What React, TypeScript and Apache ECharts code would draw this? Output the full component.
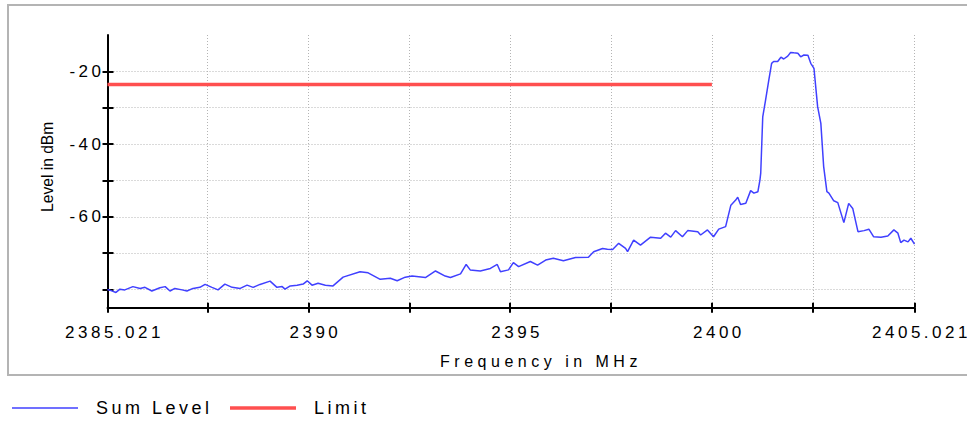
import React, { useEffect, useRef } from 'react';
import * as echarts from 'echarts';

const xMin = 2385.021;
const xMax = 2405.021;
const yMin = -85;
const yMax = -10;
const xTickValues = [2385.021, 2387.5, 2390, 2392.5, 2395, 2397.5, 2400, 2402.5, 2405.021];
const xLabelValues = [2385.021, 2390, 2395, 2400, 2405.021];
const yTickValues = [-80, -70, -60, -50, -40, -30, -20];
const yLabelValues = [-60, -40, -20];

const sumLevelFreq = [
  2385.021, 2385.11, 2385.23, 2385.33, 2385.45, 2385.65, 2385.83, 2385.95, 2386.12, 2386.32,
  2386.45, 2386.57, 2386.69, 2386.87, 2386.99, 2387.14, 2387.31, 2387.44, 2387.61, 2387.76,
  2387.93, 2388.11, 2388.31, 2388.48, 2388.63, 2388.8, 2389.05, 2389.22, 2389.35, 2389.42,
  2389.55, 2389.72, 2389.87, 2389.97, 2390.09, 2390.24, 2390.42, 2390.61, 2390.86, 2391.28,
  2391.48, 2391.78, 2392.03, 2392.2, 2392.4, 2392.57, 2392.9, 2393.15, 2393.39, 2393.52,
  2393.77, 2393.91, 2394.01, 2394.26, 2394.51, 2394.68, 2394.76, 2394.96, 2395.08, 2395.21,
  2395.5, 2395.68, 2395.88, 2396.07, 2396.32, 2396.62, 2396.94, 2397.07, 2397.29, 2397.41,
  2397.54, 2397.69, 2397.86, 2397.91, 2398.06, 2398.23, 2398.48, 2398.73, 2398.85, 2398.98,
  2399.1, 2399.27, 2399.4, 2399.65, 2399.72, 2399.89, 2400.04, 2400.17, 2400.34, 2400.47,
  2400.59, 2400.64, 2400.71, 2400.84, 2400.96, 2401.04, 2401.14, 2401.19, 2401.21, 2401.26,
  2401.33, 2401.41, 2401.48, 2401.53, 2401.63, 2401.71, 2401.78, 2401.88, 2401.95, 2402.03,
  2402.13, 2402.2, 2402.28, 2402.38, 2402.45, 2402.53, 2402.62, 2402.7, 2402.77, 2402.85,
  2402.9, 2403.02, 2403.12, 2403.27, 2403.39, 2403.49, 2403.62, 2403.77, 2403.89, 2404.01,
  2404.19, 2404.36, 2404.51, 2404.61, 2404.68, 2404.76, 2404.86, 2404.93, 2405.021,
];
const sumLevelDbm = [
  -80.0, -80.3, -80.8, -79.9, -80.1, -79.2, -79.7, -79.4, -80.4, -79.5,
  -79.2, -80.4, -79.7, -80.1, -80.4, -79.7, -79.4, -78.6, -79.4, -80.1,
  -78.5, -79.4, -79.7, -78.8, -79.4, -78.6, -77.7, -79.4, -79.2, -79.9,
  -79.0, -78.8, -78.5, -77.6, -78.8, -78.3, -78.8, -79.0, -76.6, -75.1,
  -75.4, -77.2, -76.9, -77.6, -76.6, -76.3, -76.7, -74.9, -76.3, -76.7,
  -75.7, -73.1, -74.6, -74.9, -74.2, -73.1, -75.1, -74.6, -72.6, -73.7,
  -72.3, -73.3, -71.9, -71.4, -72.1, -71.2, -71.1, -69.6, -68.7, -68.9,
  -69.0, -67.3, -68.7, -69.6, -66.4, -67.8, -65.6, -65.9, -64.5, -65.6,
  -63.8, -65.5, -63.8, -64.1, -65.0, -63.6, -65.5, -63.4, -62.7, -56.8,
  -55.4, -54.6, -56.6, -56.3, -52.8, -53.5, -53.1, -49.9, -48.0, -32.5,
  -27.9, -22.4, -17.8, -17.3, -17.3, -16.1, -16.6, -15.8, -14.8, -14.9,
  -15.0, -16.0, -15.5, -15.6, -17.8, -19.2, -29.7, -34.3, -46.2, -53.1,
  -53.5, -55.6, -56.1, -61.6, -56.3, -57.7, -64.1, -63.8, -63.4, -65.5,
  -65.6, -65.3, -63.6, -64.5, -67.1, -66.4, -66.9, -65.9, -67.5,
];
const limitFreq = [2385.021, 2400];
const limitDbm = [-23.6, -23.6];

const FONT = 'Liberation Sans, Arial, sans-serif';

const fmtX = (v: number) => String(Number(Number(v).toFixed(3)));

export default function App() {
  const ref = useRef<HTMLDivElement>(null);
  useEffect(() => {
    if (!ref.current) return;
    const chart = echarts.init(ref.current, undefined, { renderer: 'svg' });
    const sumData = sumLevelFreq.map((f, i) => [f, sumLevelDbm[i]]);
    const limitData = limitFreq.map((f, i) => [f, limitDbm[i]]);
    const gridLine = { show: true, lineStyle: { color: '#b4b4b4', width: 1, type: [1, 2] as any } };
    chart.setOption({
      animation: false,
      backgroundColor: '#fff',
      textStyle: { fontFamily: FONT, color: '#000' },
      graphic: [
        {
          type: 'rect',
          silent: true,
          z: -10,
          shape: { x: 8, y: 5, width: 1000, height: 370 },
          style: { fill: 'none', stroke: '#b4b4b4', lineWidth: 2 },
        },
      ],
      grid: { left: 107.5, top: 35, right: 52.5, bottom: 115.3, containLabel: false },
      legend: [
        {
          data: ['Sum Level'],
          left: 7,
          top: 394,
          icon: 'rect',
          itemWidth: 66,
          itemHeight: 1.5,
          selectedMode: false,
          textStyle: { fontSize: 18, color: '#000', fontFamily: FONT, padding: [0, 0, 0, 13] },
        },
        {
          data: ['Limit'],
          left: 225,
          top: 394,
          icon: 'rect',
          itemWidth: 66,
          itemHeight: 3.5,
          selectedMode: false,
          textStyle: { fontSize: 18, color: '#000', fontFamily: FONT, padding: [0, 0, 0, 13] },
        },
      ],
      xAxis: [
        {
          type: 'value',
          min: xMin,
          max: xMax,
          minInterval: 2.5,
          maxInterval: 2.5,
          position: 'bottom',
          name: 'Frequency in MHz',
          nameLocation: 'middle',
          nameGap: 46,
          nameTextStyle: { fontSize: 16, color: '#000', fontFamily: FONT, padding: [0, 0, 0, 60] },
          axisLine: { show: true, lineStyle: { color: '#000', width: 2 } },
          axisTick: { show: true, inside: false, length: 5, customValues: xTickValues, lineStyle: { color: '#000', width: 2 } },
          axisLabel: {
            show: true,
            customValues: xLabelValues,
            formatter: fmtX,
            fontSize: 17,
            color: '#000',
            fontFamily: FONT,
            margin: 16,
            padding: [0, 0, 0, 14],
            showMinLabel: true,
            showMaxLabel: true,
            hideOverlap: false,
          },
          splitLine: { ...gridLine, showMinLine: false, showMaxLine: true },
        },
        {
          type: 'value',
          min: xMin,
          max: xMax,
          minInterval: 2.5,
          maxInterval: 2.5,
          position: 'bottom',
          offset: 0,
          axisLine: { show: false },
          axisTick: { show: true, inside: true, length: 5, customValues: xTickValues, lineStyle: { color: '#000', width: 2 } },
          axisLabel: { show: false },
          splitLine: { show: false },
        },
      ],
      yAxis: [
        {
          type: 'value',
          min: yMin,
          max: yMax,
          minInterval: 10,
          maxInterval: 10,
          position: 'left',
          name: 'Level in dBm',
          nameLocation: 'middle',
          nameGap: 52,
          nameRotate: 90,
          nameTextStyle: { fontSize: 15.6, color: '#000', fontFamily: FONT, padding: [0, 0, 0, 9] },
          axisLine: { show: true, lineStyle: { color: '#000', width: 2 } },
          axisTick: { show: true, inside: false, length: 5, customValues: yTickValues, lineStyle: { color: '#000', width: 2 } },
          axisLabel: {
            show: true,
            customValues: yLabelValues,
            formatter: (v: number) => String(v),
            fontSize: 17,
            color: '#000',
            fontFamily: FONT,
            margin: 3,
            padding: [8, 0, 0, 0],
            showMinLabel: true,
            showMaxLabel: true,
          },
          splitLine: { ...gridLine },
        },
        {
          type: 'value',
          min: yMin,
          max: yMax,
          minInterval: 10,
          maxInterval: 10,
          position: 'left',
          offset: 0,
          axisLine: { show: false },
          axisTick: { show: true, inside: true, length: 6, customValues: yTickValues, lineStyle: { color: '#000', width: 2 } },
          axisLabel: { show: false },
          splitLine: { show: false },
        },
      ],
      series: [
        {
          name: 'Sum Level',
          type: 'line',
          xAxisIndex: 0,
          yAxisIndex: 0,
          data: sumData,
          symbol: 'none',
          color: '#4040ff',
          lineStyle: { color: '#4040ff', width: 1.5 },
          z: 3,
        },
        {
          name: 'Limit',
          type: 'line',
          xAxisIndex: 0,
          yAxisIndex: 0,
          data: limitData,
          symbol: 'none',
          color: '#ff4f4f',
          lineStyle: { color: '#ff4f4f', width: 3.5, cap: 'butt' },
          z: 3,
        },
      ],
    });
    return () => chart.dispose();
  }, []);

  return (
    <>
      <style>{`
        .spectrum-chart text[style*="17px"] { letter-spacing: 3.5px; }
        .spectrum-chart text[style*="18px"] { letter-spacing: 3.5px; }
        .spectrum-chart text[style*="16px"] { letter-spacing: 4.5px; }
      `}</style>
      <div
        ref={ref}
        className="spectrum-chart"
        style={{ position: 'fixed', left: 0, top: 0, width: 967, height: 423, background: '#fff' }}
      />
    </>
  );
}
